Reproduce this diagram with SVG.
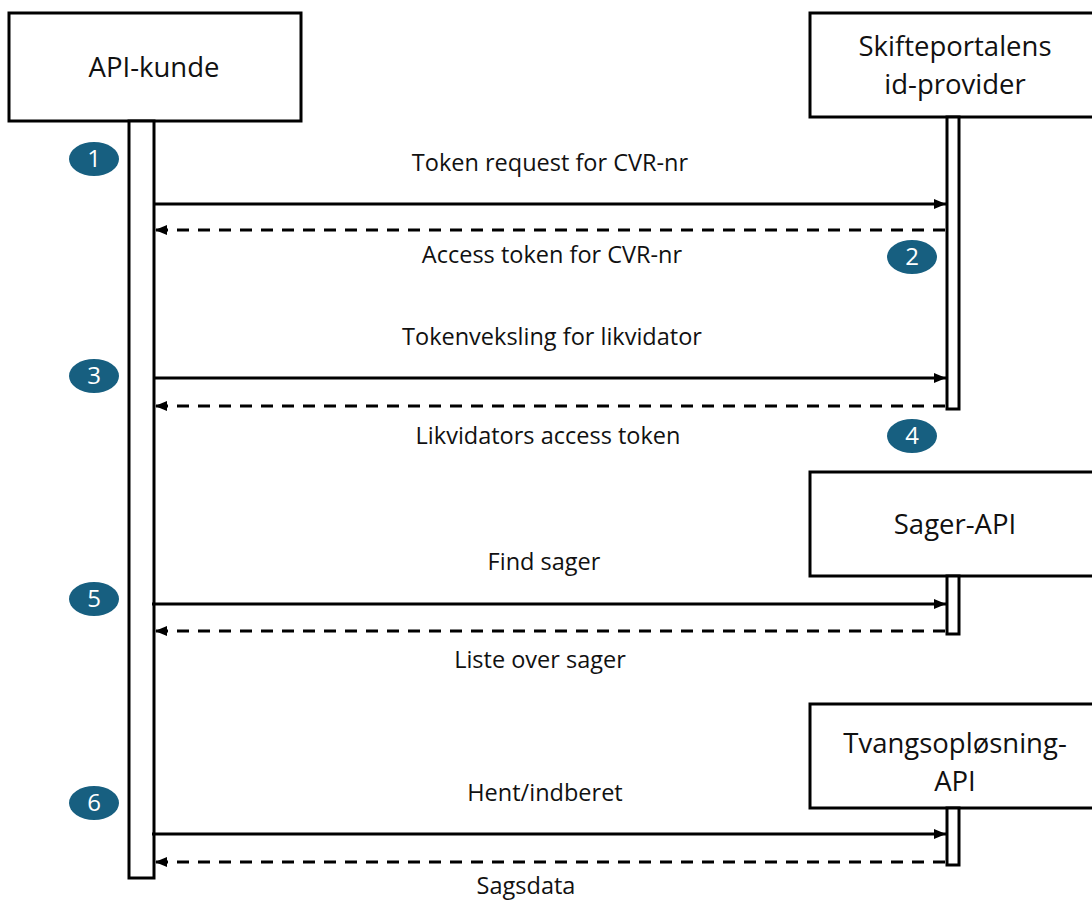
<svg xmlns="http://www.w3.org/2000/svg" width="1092" height="902" viewBox="0 0 1092 902">
<style>
.box{fill:#fff;stroke:#000;stroke-width:3}
.bar{fill:#fff;stroke:#000;stroke-width:3}
.t{font-family:"Open Sans","Liberation Sans",sans-serif;fill:#111;text-anchor:middle}
.nt{font-size:27.5px}
.lt{font-size:23.5px}
.msg{stroke:#000;stroke-width:3;fill:none}
.ret{stroke:#000;stroke-width:3;fill:none;stroke-dasharray:12 9}
.badge{fill:#175f80}
.bt{font-family:"Open Sans","Liberation Sans",sans-serif;font-size:24px;fill:#fff;text-anchor:middle}
</style>
<defs>
<marker id="ah" viewBox="0 0 12 10" refX="12" refY="5" markerWidth="12" markerHeight="10" markerUnits="userSpaceOnUse" orient="auto">
<path d="M0,0 L12,5 L0,10 Z" fill="#000"/>
</marker>
</defs>
<rect width="1092" height="902" fill="#fff"/>

<g id="api-kunde">
<rect class="box" x="9" y="13" width="292" height="108"/>
<text class="t nt" x="154" y="77">API-kunde</text>
<rect class="bar" x="129" y="121" width="25" height="757"/>
</g>

<g id="idp">
<rect class="box" x="810" y="13" width="290" height="104"/>
<text class="t nt" x="955" y="56">Skifteportalens</text>
<text class="t nt" x="955" y="94">id-provider</text>
<rect class="bar" x="947" y="117" width="12" height="292"/>
</g>

<g id="sager-api">
<rect class="box" x="810" y="472" width="290" height="104"/>
<text class="t nt" x="955" y="534">Sager-API</text>
<rect class="bar" x="947" y="576" width="12" height="58"/>
</g>

<g id="tvang-api">
<rect class="box" x="810" y="704" width="290" height="104"/>
<text class="t nt" x="955" y="753">Tvangsopløsning-</text>
<text class="t nt" x="955" y="791">API</text>
<rect class="bar" x="947" y="808" width="12" height="57"/>
</g>

<g id="connectors">
<line class="msg" x1="154" y1="204" x2="946" y2="204" marker-end="url(#ah)"/>
<line class="ret" x1="945" y1="230" x2="155" y2="230" marker-end="url(#ah)"/>
<line class="msg" x1="154" y1="378" x2="946" y2="378" marker-end="url(#ah)"/>
<line class="ret" x1="945" y1="406" x2="155" y2="406" marker-end="url(#ah)"/>
<line class="msg" x1="152" y1="604" x2="946" y2="604" marker-end="url(#ah)"/>
<line class="ret" x1="945" y1="631" x2="155" y2="631" marker-end="url(#ah)"/>
<line class="msg" x1="152" y1="834" x2="946" y2="834" marker-end="url(#ah)"/>
<line class="ret" x1="945" y1="862" x2="155" y2="862" marker-end="url(#ah)"/>
</g>

<g id="labels">
<text class="t lt" x="550" y="171">Token request for CVR-nr</text>
<text class="t lt" x="552" y="263">Access token for CVR-nr</text>
<text class="t lt" x="552" y="345">Tokenveksling for likvidator</text>
<text class="t lt" x="548" y="444">Likvidators access token</text>
<text class="t lt" x="544" y="570">Find sager</text>
<text class="t lt" x="540" y="668">Liste over sager</text>
<text class="t lt" x="545" y="801">Hent/indberet</text>
<text class="t lt" x="526" y="894">Sagsdata</text>
</g>

<g id="badges">
<ellipse class="badge" cx="94" cy="159" rx="25" ry="17"/><text class="bt" x="94" y="167">1</text>
<ellipse class="badge" cx="912" cy="257" rx="25" ry="17"/><text class="bt" x="912" y="265">2</text>
<ellipse class="badge" cx="94" cy="376" rx="25" ry="17"/><text class="bt" x="94" y="384">3</text>
<ellipse class="badge" cx="912" cy="436" rx="25" ry="17"/><text class="bt" x="912" y="444">4</text>
<ellipse class="badge" cx="94" cy="599" rx="25" ry="17"/><text class="bt" x="94" y="607">5</text>
<ellipse class="badge" cx="94" cy="803" rx="25" ry="17"/><text class="bt" x="94" y="811">6</text>
</g>
</svg>
